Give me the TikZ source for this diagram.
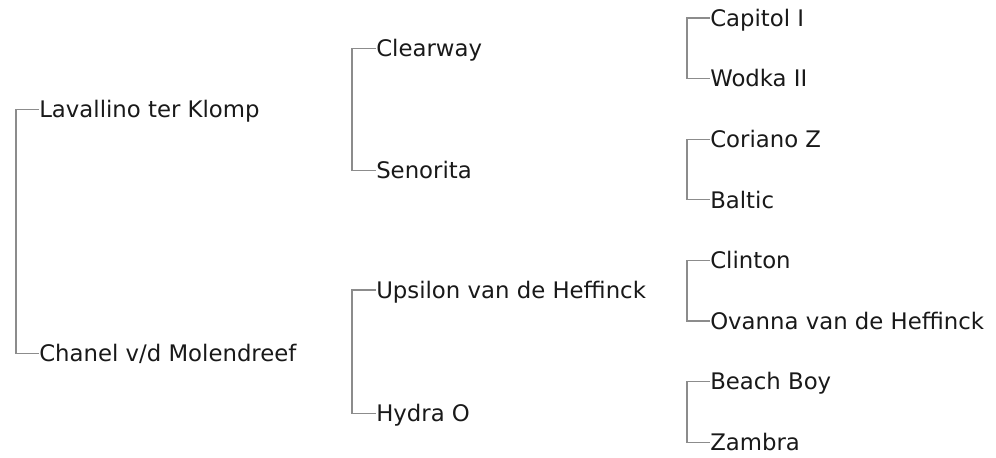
\documentclass[tikz,border=0pt]{standalone}
\usepackage{fontspec}
\setmainfont{DejaVu Sans}
\usepackage{tikz}
\usetikzlibrary{calc}
\definecolor{linegray}{RGB}{140,140,140}
\tikzset{
  horse/.style={anchor=west,inner sep=0pt,text height=12.45pt,text depth=0pt,
    font=\fontsize{17.1}{20}\selectfont,text=black!90},
  link/.style={draw=linegray,line width=0.9pt}
}

\begin{document}
\begin{tikzpicture}[x=0.75pt,y=-0.75pt]
    \useasboundingbox (0,0) rectangle (996,457);
    % third generation
    \foreach \name/\k in {Capitol I/0,Wodka II/1,Coriano Z/2,Baltic/3,
                          Clinton/4,Ovanna van de Heffinck/5,Beach Boy/6,Zambra/7} {
      \node[horse] (g\k) at (710,{18+60.6*\k}) {\name};
    }
    % second generation
    \node[horse] (p0) at (376,48.5) {Clearway};
    \node[horse] (p1) at (376,170.5) {Senorita};
    \node[horse] (p2) at (376,290) {Upsilon van de Heffinck};
    \node[horse] (p3) at (376,413.5) {Hydra O};
    % parents
    \node[horse] (sire) at (39,109.5) {Lavallino ter Klomp};
    \node[horse] (dam) at (39,353.5) {Chanel v/d Molendreef};
    % brackets
    \foreach \k/\j in {0/1,2/3,4/5,6/7} {
      \draw[link] (g\k.west) -- ++(-23,0) |- (g\j.west);
    }
    \draw[link] (p0.west) -- ++(-24,0) |- (p1.west);
    \draw[link] (p2.west) -- ++(-24,0) |- (p3.west);
    \draw[link] (sire.west) -- ++(-23,0) |- (dam.west);
\end{tikzpicture}
\end{document}
